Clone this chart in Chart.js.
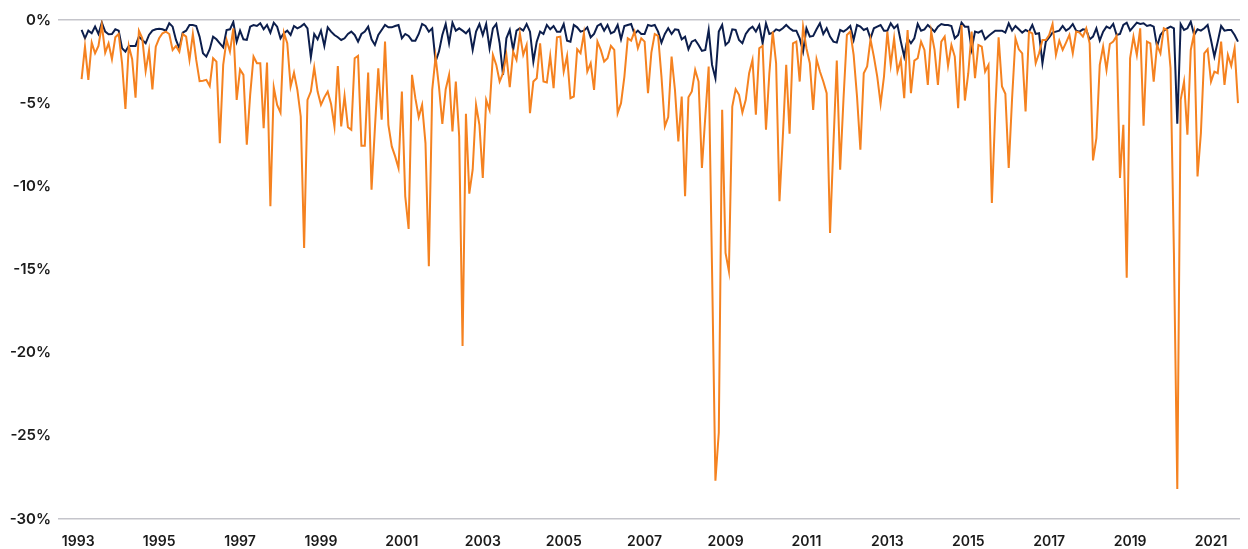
<!DOCTYPE html>
<html>
<head>
<meta charset="utf-8">
<script src="https://cdn.jsdelivr.net/npm/chart.js@4.4.0/dist/chart.umd.min.js"></script>
<style>
html,body{margin:0;padding:0;background:#ffffff;}
#wrap{width:1248px;height:549px;position:relative;}
</style>
</head>
<body>
<div id="wrap"><canvas id="chart"></canvas></div>
<script>
// Monthly categories: Feb 1993 .. Sep 2021
const monthLabels = [];
for (let y = 1993; y <= 2021; y++) {
  for (let m = 1; m <= 12; m++) {
    if (y === 1993 && m < 2) continue;
    if (y === 2021 && m > 9) continue;
    monthLabels.push(y + '-' + String(m).padStart(2, '0'));
  }
}

const seriesOrange = [
-3.55,-1.6,-3.6,-1.36,-2.0,-1.56,-0.3,-1.96,-1.4,-2.36,-1.04,-0.84,
-2.6,-5.35,-1.56,-2.36,-4.67,-0.64,-1.1,-3.07,-1.84,-4.17,-1.6,-1.1,
-0.8,-0.7,-0.84,-1.8,-1.56,-1.9,-0.84,-1.0,-2.4,-0.84,-2.4,-3.67,
-3.65,-3.6,-3.97,-2.3,-2.5,-7.4,-2.7,-1.2,-1.9,-0.5,-4.8,-2.97,
-3.3,-7.5,-4.5,-2.2,-2.6,-2.6,-6.5,-2.56,-11.2,-4.05,-5.1,-5.57,
-0.76,-1.4,-4.0,-3.17,-4.2,-5.8,-13.7,-4.8,-4.3,-2.85,-4.3,-5.1,
-4.65,-4.3,-5.05,-6.4,-2.77,-6.4,-4.57,-6.45,-6.6,-2.3,-2.16,-7.56,
-7.56,-3.16,-10.2,-6.5,-2.9,-6.0,-1.3,-6.3,-7.6,-8.2,-8.9,-4.3,
-10.6,-12.56,-3.3,-4.7,-5.84,-5.1,-7.4,-14.8,-4.2,-2.2,-4.0,-6.24,
-4.16,-3.3,-6.7,-3.7,-7.0,-19.6,-5.64,-10.44,-9.0,-5.1,-6.3,-9.5,
-4.8,-5.4,-2.1,-2.7,-3.7,-3.2,-2.1,-4.04,-1.9,-2.4,-0.8,-2.1,
-1.5,-5.6,-3.7,-3.5,-1.4,-3.7,-3.76,-2.16,-4.1,-1.04,-1.0,-3.1,
-2.16,-4.7,-4.6,-1.76,-2.0,-0.8,-3.1,-2.6,-4.2,-1.3,-1.8,-2.5,
-2.3,-1.56,-1.8,-5.6,-5.0,-3.4,-1.1,-1.24,-0.7,-1.7,-1.1,-1.3,
-4.4,-1.96,-0.84,-0.96,-3.4,-6.4,-5.84,-2.2,-4.2,-7.3,-4.6,-10.6,
-4.64,-4.3,-3.0,-3.7,-8.9,-5.8,-2.8,-15.0,-27.7,-24.8,-5.4,-14.0,
-15.1,-5.2,-4.16,-4.5,-5.56,-4.8,-3.2,-2.4,-5.7,-1.7,-1.56,-6.6,
-3.2,-0.7,-2.6,-10.9,-7.0,-2.7,-6.84,-1.4,-1.3,-3.7,-0.4,-1.7,
-2.6,-5.4,-2.36,-3.1,-3.7,-4.4,-12.8,-7.5,-2.44,-9.0,-4.7,-0.9,
-0.7,-2.1,-4.6,-7.8,-3.2,-2.8,-1.16,-2.2,-3.4,-5.04,-3.4,-0.7,
-2.7,-1.1,-3.1,-2.4,-4.7,-0.6,-4.4,-2.44,-2.3,-1.3,-1.8,-3.9,
-0.7,-1.8,-3.9,-1.3,-1.0,-2.76,-1.5,-2.2,-5.3,-0.3,-4.84,-3.2,
-0.7,-3.5,-1.5,-1.6,-3.1,-2.7,-11.0,-5.5,-1.04,-4.0,-4.44,-8.9,
-4.7,-1.1,-1.76,-2.0,-5.5,-0.7,-0.8,-2.6,-2.0,-1.2,-1.2,-0.9,
-0.24,-2.1,-1.24,-1.8,-1.36,-0.9,-2.0,-0.7,-0.76,-1.0,-0.5,-1.4,
-8.44,-7.1,-2.7,-1.6,-3.0,-1.44,-1.3,-0.96,-9.5,-6.3,-15.5,-2.3,
-1.0,-2.1,-0.5,-6.36,-1.3,-1.4,-3.7,-1.5,-2.0,-0.5,-0.6,-2.9,
-14.0,-28.2,-4.8,-3.7,-6.9,-1.8,-0.8,-9.4,-6.8,-2.0,-1.76,-3.7,
-3.1,-3.2,-1.3,-3.9,-2.1,-2.76,-1.7,-5.0
];

const seriesNavy = [
-0.6,-1.1,-0.64,-0.8,-0.4,-0.84,-0.16,-0.7,-0.86,-0.84,-0.56,-0.64,
-1.7,-1.9,-1.56,-1.56,-1.56,-1.0,-1.2,-1.4,-0.9,-0.64,-0.56,-0.52,
-0.56,-0.64,-0.2,-0.4,-1.2,-1.7,-0.76,-0.64,-0.3,-0.3,-0.36,-1.0,
-2.0,-2.2,-1.76,-1.0,-1.16,-1.4,-1.64,-0.6,-0.56,-0.12,-1.3,-0.64,
-1.16,-1.2,-0.4,-0.3,-0.36,-0.2,-0.56,-0.3,-0.76,-0.16,-0.4,-1.1,
-0.8,-0.64,-0.9,-0.36,-0.5,-0.4,-0.24,-0.5,-2.24,-0.84,-1.16,-0.64,
-1.56,-0.44,-0.7,-0.9,-1.04,-1.2,-1.1,-0.84,-0.7,-0.9,-1.3,-0.84,
-0.7,-0.4,-1.16,-1.5,-0.9,-0.6,-0.3,-0.44,-0.44,-0.36,-0.3,-1.1,
-0.84,-0.96,-1.24,-1.24,-0.84,-0.24,-0.36,-0.7,-0.5,-2.5,-1.9,-0.9,
-0.24,-1.4,-0.16,-0.64,-0.5,-0.64,-0.8,-0.56,-1.8,-0.7,-0.24,-0.9,
-0.24,-1.7,-0.5,-0.24,-1.4,-3.3,-1.1,-0.6,-1.8,-0.64,-0.5,-0.64,
-0.24,-0.7,-2.5,-1.3,-0.7,-0.84,-0.3,-0.56,-0.36,-0.7,-0.7,-0.24,
-1.24,-1.3,-0.3,-0.44,-0.7,-0.64,-0.44,-1.04,-0.84,-0.36,-0.24,-0.64,
-0.3,-0.8,-0.7,-0.3,-1.16,-0.36,-0.3,-0.24,-0.84,-0.64,-0.84,-0.84,
-0.3,-0.36,-0.3,-0.7,-1.36,-0.84,-0.5,-0.84,-0.56,-0.6,-1.16,-1.0,
-1.76,-1.3,-1.2,-1.5,-1.86,-1.8,-0.6,-2.7,-3.5,-0.7,-0.3,-1.5,
-1.3,-0.56,-0.6,-1.2,-1.4,-0.84,-0.56,-0.4,-0.7,-0.3,-1.4,-0.2,
-0.84,-0.76,-0.56,-0.64,-0.5,-0.3,-0.5,-0.64,-0.64,-1.1,-1.9,-0.5,
-1.0,-0.96,-0.56,-0.2,-0.84,-0.5,-1.0,-1.3,-1.36,-0.6,-0.7,-0.56,
-0.36,-1.2,-0.3,-0.4,-0.6,-0.5,-1.1,-0.5,-0.4,-0.3,-0.64,-0.64,
-0.2,-0.5,-0.3,-1.3,-2.2,-1.1,-1.4,-1.1,-0.24,-0.64,-0.56,-0.3,
-0.5,-0.7,-0.4,-0.24,-0.3,-0.3,-0.36,-1.1,-0.9,-0.16,-0.4,-0.4,
-1.76,-0.7,-0.76,-0.64,-1.16,-0.96,-0.8,-0.64,-0.64,-0.64,-0.76,-0.2,
-0.64,-0.36,-0.56,-0.76,-0.6,-0.7,-0.3,-0.84,-0.8,-2.6,-1.3,-1.04,
-0.76,-0.7,-0.64,-0.36,-0.64,-0.5,-0.24,-0.64,-0.7,-0.56,-0.6,-1.16,
-1.0,-0.5,-1.24,-0.7,-0.4,-0.5,-0.24,-0.9,-0.84,-0.3,-0.16,-0.64,
-0.4,-0.16,-0.24,-0.2,-0.36,-0.3,-0.4,-1.6,-0.9,-0.64,-0.5,-0.4,
-0.5,-6.24,-0.24,-0.6,-0.5,-0.1,-0.9,-0.56,-0.64,-0.5,-0.3,-1.2,
-2.2,-1.3,-0.36,-0.64,-0.6,-0.6,-0.9,-1.3
];

const xTickYears = ['1993','1995','1997','1999','2001','2003','2005','2007','2009','2011','2013','2015','2017','2019','2021'];
const yTickValues = [0, -5, -10, -15, -20, -25, -30];

function monthIndex(label) {
  const parts = label.split('-').map(Number);
  return (parts[0] - 1993) * 12 + (parts[1] - 1);
}
function toPoints(values) {
  return monthLabels.map((l, i) => ({ x: monthIndex(l), y: values[i] }));
}

const tickFont = { family: 'Inter, "Noto Sans", sans-serif', size: 15, weight: '600' };

new Chart(document.getElementById('chart'), {
  type: 'line',
  data: {
    datasets: [
      { label: 'Series 1', data: toPoints(seriesOrange), borderColor: '#f58220', borderWidth: 2, pointRadius: 0, tension: 0, fill: false, order: 0 },
      { label: 'Series 2', data: toPoints(seriesNavy), borderColor: '#0c1e4c', borderWidth: 2, pointRadius: 0, tension: 0, fill: false, order: 1 }
    ]
  },
  options: {
    responsive: true,
    maintainAspectRatio: false,
    animation: false,
    layout: { padding: { top: 20, right: 8, left: 0, bottom: 0 } },
    plugins: { legend: { display: false }, tooltip: { enabled: false } },
    scales: {
      x: {
        type: 'linear',
        min: -6,
        max: 344.6,
        grid: { display: false, drawTicks: false },
        border: { display: false },
        afterBuildTicks: s => { s.ticks = xTickYears.map(y => ({ value: (Number(y) - 1993) * 12 })); },
        afterFit: s => { s.height = 30; },
        ticks: {
          autoSkip: false, maxRotation: 0, padding: 14,
          color: '#1b1b1b',
          font: { family: tickFont.family, size: 14, weight: '600' },
          callback: v => xTickYears[Math.round(v / 24)]
        }
      },
      y: {
        min: -30,
        max: 0,
        afterBuildTicks: s => { s.ticks = yTickValues.map(v => ({ value: v })); },
        afterFit: s => { s.width = 58; },
        grid: {
          drawTicks: false,
          lineWidth: 1.5,
          color: c => (c.tick && (c.tick.value === 0 || c.tick.value === -30)) ? '#c5c5cb' : 'rgba(0,0,0,0)'
        },
        border: { display: false },
        ticks: {
          padding: 7,
          color: '#1b1b1b',
          font: tickFont,
          callback: v => v + '%'
        }
      }
    }
  }
});
</script>
</body>
</html>
